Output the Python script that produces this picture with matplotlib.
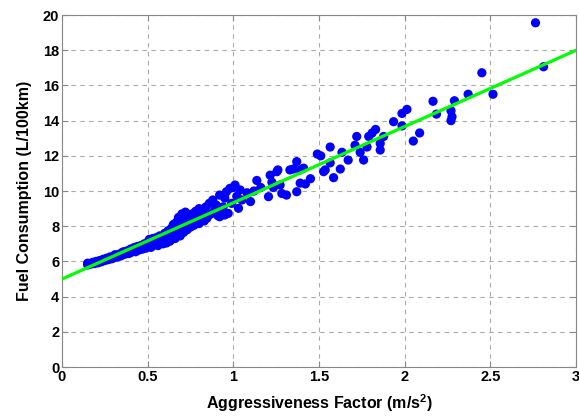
import numpy as np
import matplotlib
matplotlib.use("Agg")
import matplotlib.pyplot as plt
from matplotlib.ticker import FormatStrFormatter

plt.rcParams['font.family'] = ['Liberation Sans', 'DejaVu Sans']
plt.rcParams['font.weight'] = 'bold'
plt.rcParams['mathtext.fontset'] = 'custom'
plt.rcParams['mathtext.rm'] = 'Liberation Sans:bold'
plt.rcParams['mathtext.bf'] = 'Liberation Sans:bold'

# measured points: dense band at low aggressiveness
x_dense = [0.15, 0.15, 0.17, 0.18, 0.19, 0.20, 0.21, 0.22, 0.23, 0.24, 0.25, 0.26,
           0.27, 0.28, 0.29, 0.30, 0.30, 0.31, 0.32, 0.33, 0.34, 0.35, 0.35, 0.36,
           0.37, 0.38, 0.39, 0.40, 0.40, 0.41, 0.42, 0.43, 0.44, 0.45, 0.46, 0.47,
           0.48, 0.49, 0.50, 0.50, 0.51, 0.52, 0.53, 0.54, 0.55, 0.55, 0.56, 0.57,
           0.58, 0.59, 0.60, 0.60, 0.61, 0.62, 0.63, 0.63, 0.64, 0.65, 0.65, 0.66,
           0.67, 0.68, 0.68, 0.69, 0.70, 0.70, 0.71, 0.72, 0.72, 0.73, 0.74, 0.74,
           0.75, 0.76, 0.76, 0.77, 0.78, 0.79, 0.80, 0.80, 0.81, 0.82, 0.83, 0.84,
           0.845, 0.85, 0.86, 0.87, 0.88, 0.89, 0.90, 0.91, 0.92, 0.92, 0.93, 0.94,
           0.95, 0.95, 0.96, 0.97, 0.98, 0.99, 1.00, 1.01, 1.02, 1.03, 1.04, 1.05,
           1.08, 1.10, 1.12, 1.16]
y_dense = [5.80, 5.90, 5.85, 5.95, 5.88, 6.00, 5.92, 6.05, 5.98, 6.12, 6.05, 6.18,
           6.10, 6.25, 6.15, 6.30, 6.20, 6.38, 6.25, 6.40, 6.30, 6.50, 6.35, 6.55,
           6.42, 6.60, 6.45, 6.70, 6.50, 6.62, 6.78, 6.55, 6.85, 6.65, 6.90, 6.70,
           7.00, 6.75, 7.10, 6.85, 7.25, 6.80, 7.30, 6.95, 7.35, 7.10, 6.90, 7.45,
           7.20, 7.00, 7.60, 7.30, 7.05, 7.75, 7.40, 7.15, 7.90, 7.55, 8.10, 7.30,
           8.25, 7.70, 8.50, 7.45, 8.00, 8.70, 7.65, 8.35, 8.80, 7.80, 8.55, 8.10,
           7.95, 8.70, 8.30, 8.05, 8.85, 8.45, 8.15, 9.00, 8.60, 8.82, 8.30, 9.10,
           8.45, 8.55, 9.30, 8.70, 9.49, 8.90, 9.20, 8.60, 9.77, 8.54, 9.00, 9.10,
           9.60, 8.64, 9.96, 8.73, 10.15, 9.30, 10.20, 10.34, 9.70, 9.02, 10.06, 9.49,
           9.90, 9.40, 10.00, 10.20]

# measured points: sparse region
x_sparse = [1.137, 1.205, 1.215, 1.225, 1.234, 1.254, 1.26, 1.273, 1.283, 1.31,
            1.33, 1.35, 1.37, 1.37, 1.39, 1.39, 1.41, 1.42, 1.45, 1.49, 1.51,
            1.527, 1.536, 1.565, 1.565, 1.585, 1.624, 1.634, 1.67, 1.71, 1.72,
            1.74, 1.76, 1.78, 1.79, 1.81, 1.83, 1.857, 1.857, 1.877, 1.935,
            1.984, 1.984, 2.013, 2.05, 2.087, 2.165, 2.185, 2.27, 2.276, 2.27,
            2.29, 2.37, 2.45, 2.515, 2.763, 2.81]
y_sparse = [10.6, 9.68, 10.9, 10.5, 10.2, 11.1, 11.2, 10.34, 9.86, 9.77,
            11.2, 11.25, 11.67, 9.96, 10.45, 11.2, 11.3, 10.4, 10.7, 12.1, 12.0,
            11.1, 11.2, 11.6, 12.5, 10.76, 11.25, 12.2, 11.76, 12.6, 13.1,
            12.2, 11.76, 12.5, 13.1, 13.3, 13.5, 12.7, 12.33, 13.1, 13.94,
            14.41, 13.7, 14.64, 12.84, 13.3, 15.1, 14.37, 14.56, 14.22, 14.0,
            15.13, 15.5, 16.72, 15.5, 19.56, 17.06]

# fitted line endpoints
fit_x = [0, 3]
fit_y = [5.0, 18.0]

fig = plt.figure(figsize=(5.79, 4.18), dpi=100)
ax = fig.add_axes([0.107, 0.122, 0.888, 0.842])

ax.scatter(x_dense + x_sparse, y_dense + y_sparse, s=44, color='#0000ff',
           edgecolors='none', zorder=3)
ax.plot(fit_x, fit_y, color='#00ff00', lw=2.3, zorder=4)

ax.set_xlim(0, 3)
ax.set_ylim(0, 20)
ax.set_xticks(np.arange(0, 3.01, 0.5))
ax.set_yticks(np.arange(0, 21, 2))
ax.xaxis.set_major_formatter(FormatStrFormatter('%g'))
ax.grid(True, linestyle=(0, (4, 4)), color='#aaaaaa', lw=0.8)
ax.set_axisbelow(True)
ax.tick_params(direction='in', top=True, right=True, labelsize=10.5,
               color='#888888', length=4, pad=2)
for sp in ax.spines.values():
    sp.set_color('#888888')

ax.set_xlabel('Aggressiveness Factor (m/s$^{2}$)', fontsize=11.5, fontweight='bold', labelpad=6)
ax.set_ylabel('Fuel Consumption (L/100km)', fontsize=11.5, fontweight='bold', labelpad=8)

fig.savefig('out.png', dpi=100)
